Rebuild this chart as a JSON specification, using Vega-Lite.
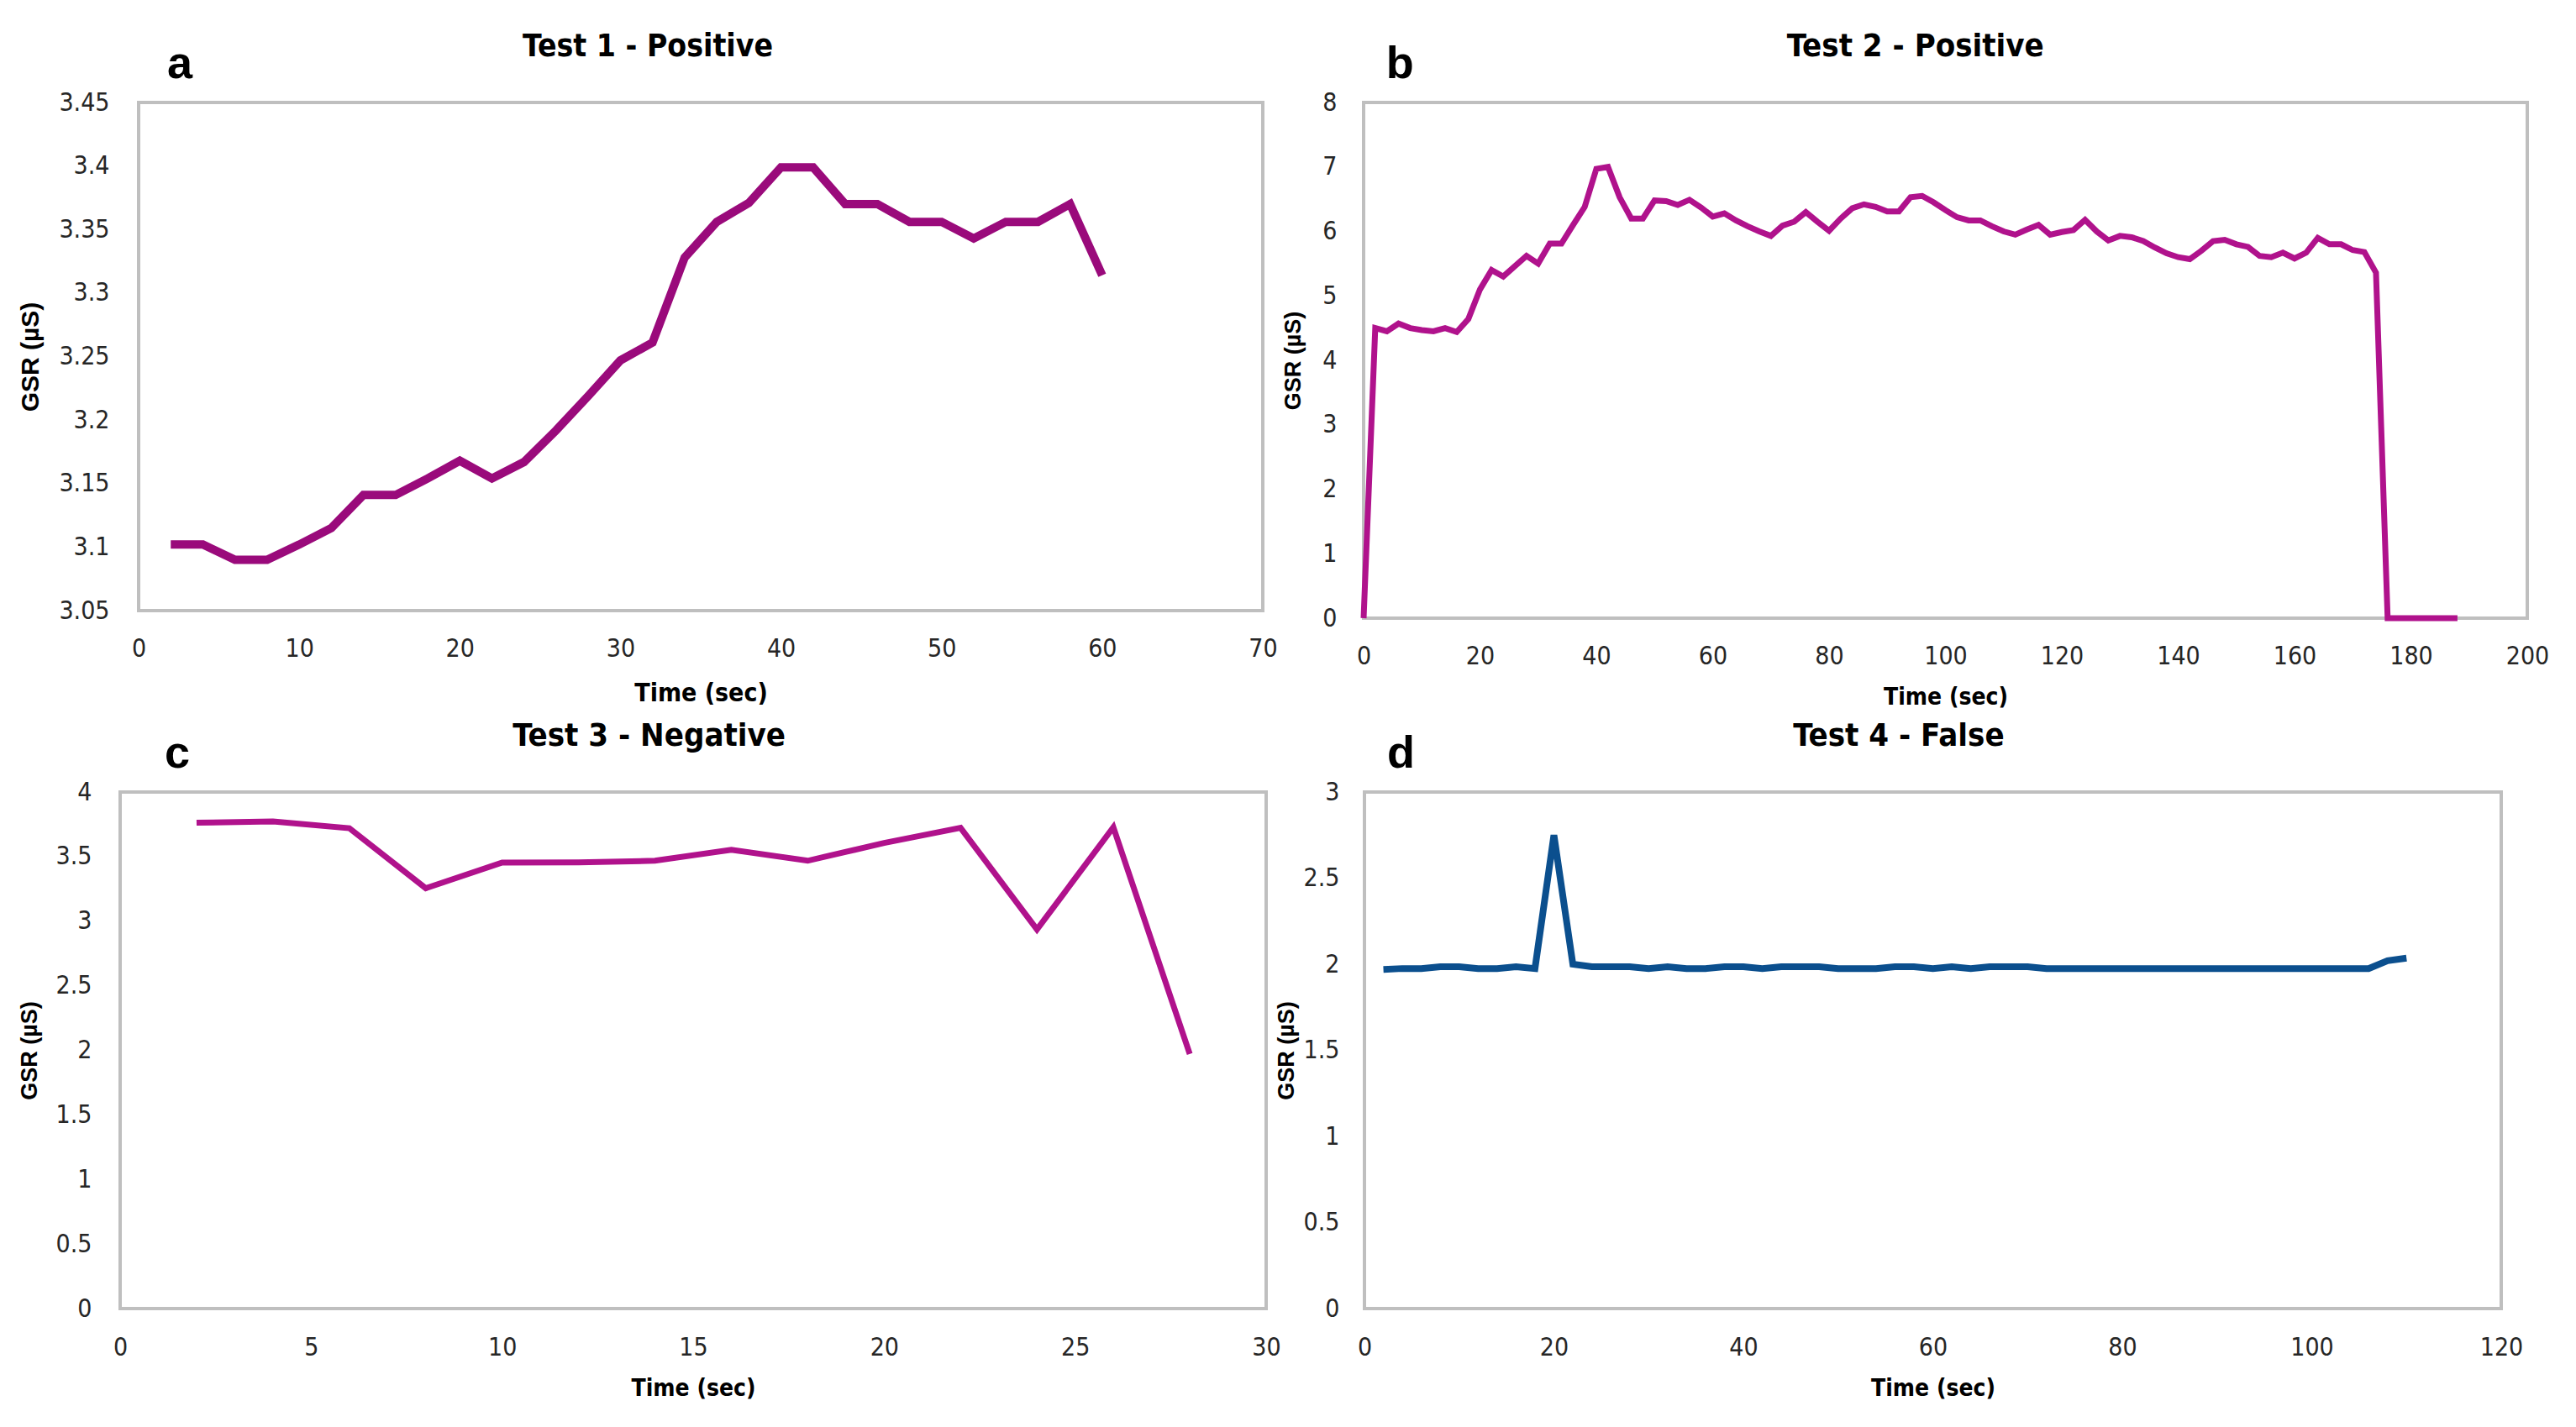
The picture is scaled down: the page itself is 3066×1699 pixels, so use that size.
{
  "$schema": "https://vega.github.io/schema/vega-lite/v6.json",
  "padding": {"left": 18, "top": 35, "right": 0, "bottom": 0},
  "background": "white",
  "config": {
    "view": {"stroke": "#BFBFBF", "strokeWidth": 4},
    "axis": {"domain": false, "ticks": false, "grid": false, "labelFont": "DejaVu Sans Condensed, sans-serif", "labelFontSize": 30, "labelColor": "#262626", "titleColor": "#000000", "labelFlush": false, "labelOverlap": false, "labelExpr": "toString(datum.value)"},
    "axisX": {"titleFont": "DejaVu Sans Condensed, sans-serif", "titleFontSize": 28, "titleFontWeight": "bold", "labelPadding": 30, "titlePadding": 20},
    "axisY": {"titleFont": "Liberation Sans, Arial, sans-serif", "titleFontSize": 27, "titleFontWeight": "bold", "labelPadding": 33, "titlePadding": 18},
    "title": {"font": "DejaVu Sans Condensed, sans-serif", "fontSize": 38, "fontWeight": "bold", "color": "#000000", "offset": 32, "frame": "bounds"}
  },
  "datasets": {
    "t1": [
      {"t": 2, "gsr": 3.102}, {"t": 4, "gsr": 3.102}, {"t": 6, "gsr": 3.09}, {"t": 8, "gsr": 3.09}, {"t": 10, "gsr": 3.102}, {"t": 12, "gsr": 3.115}, {"t": 14, "gsr": 3.141}, {"t": 16, "gsr": 3.141}, {"t": 18, "gsr": 3.154}, {"t": 20, "gsr": 3.168}, {"t": 22, "gsr": 3.154}, {"t": 24, "gsr": 3.167}, {"t": 26, "gsr": 3.192}, {"t": 28, "gsr": 3.219}, {"t": 30, "gsr": 3.247}, {"t": 32, "gsr": 3.261}, {"t": 34, "gsr": 3.328}, {"t": 36, "gsr": 3.356}, {"t": 38, "gsr": 3.371}, {"t": 40, "gsr": 3.399}, {"t": 42, "gsr": 3.399}, {"t": 44, "gsr": 3.37}, {"t": 46, "gsr": 3.37}, {"t": 48, "gsr": 3.356}, {"t": 50, "gsr": 3.356}, {"t": 52, "gsr": 3.343}, {"t": 54, "gsr": 3.356}, {"t": 56, "gsr": 3.356}, {"t": 58, "gsr": 3.37}, {"t": 60, "gsr": 3.314}
    ],
    "t2": [
      {"t": 0, "gsr": 0}, {"t": 2, "gsr": 4.5}, {"t": 4, "gsr": 4.45}, {"t": 6, "gsr": 4.57}, {"t": 8, "gsr": 4.5}, {"t": 10, "gsr": 4.47}, {"t": 12, "gsr": 4.45}, {"t": 14, "gsr": 4.5}, {"t": 16, "gsr": 4.44}, {"t": 18, "gsr": 4.64}, {"t": 20, "gsr": 5.1}, {"t": 22, "gsr": 5.4}, {"t": 24, "gsr": 5.3}, {"t": 26, "gsr": 5.46}, {"t": 28, "gsr": 5.62}, {"t": 30, "gsr": 5.5}, {"t": 32, "gsr": 5.81}, {"t": 34, "gsr": 5.81}, {"t": 36, "gsr": 6.1}, {"t": 38, "gsr": 6.38}, {"t": 40, "gsr": 6.97}, {"t": 42, "gsr": 7.0}, {"t": 44, "gsr": 6.53}, {"t": 46, "gsr": 6.2}, {"t": 48, "gsr": 6.2}, {"t": 50, "gsr": 6.48}, {"t": 52, "gsr": 6.47}, {"t": 54, "gsr": 6.41}, {"t": 56, "gsr": 6.49}, {"t": 58, "gsr": 6.37}, {"t": 60, "gsr": 6.23}, {"t": 62, "gsr": 6.28}, {"t": 64, "gsr": 6.17}, {"t": 66, "gsr": 6.08}, {"t": 68, "gsr": 6.0}, {"t": 70, "gsr": 5.93}, {"t": 72, "gsr": 6.09}, {"t": 74, "gsr": 6.15}, {"t": 76, "gsr": 6.3}, {"t": 78, "gsr": 6.15}, {"t": 80, "gsr": 6.01}, {"t": 82, "gsr": 6.2}, {"t": 84, "gsr": 6.36}, {"t": 86, "gsr": 6.42}, {"t": 88, "gsr": 6.38}, {"t": 90, "gsr": 6.31}, {"t": 92, "gsr": 6.31}, {"t": 94, "gsr": 6.53}, {"t": 96, "gsr": 6.55}, {"t": 98, "gsr": 6.45}, {"t": 100, "gsr": 6.33}, {"t": 102, "gsr": 6.22}, {"t": 104, "gsr": 6.17}, {"t": 106, "gsr": 6.17}, {"t": 108, "gsr": 6.08}, {"t": 110, "gsr": 6.0}, {"t": 112, "gsr": 5.95}, {"t": 114, "gsr": 6.03}, {"t": 116, "gsr": 6.1}, {"t": 118, "gsr": 5.95}, {"t": 120, "gsr": 5.99}, {"t": 122, "gsr": 6.02}, {"t": 124, "gsr": 6.18}, {"t": 126, "gsr": 6.0}, {"t": 128, "gsr": 5.86}, {"t": 130, "gsr": 5.93}, {"t": 132, "gsr": 5.91}, {"t": 134, "gsr": 5.85}, {"t": 136, "gsr": 5.75}, {"t": 138, "gsr": 5.66}, {"t": 140, "gsr": 5.6}, {"t": 142, "gsr": 5.57}, {"t": 144, "gsr": 5.7}, {"t": 146, "gsr": 5.85}, {"t": 148, "gsr": 5.87}, {"t": 150, "gsr": 5.8}, {"t": 152, "gsr": 5.76}, {"t": 154, "gsr": 5.62}, {"t": 156, "gsr": 5.6}, {"t": 158, "gsr": 5.67}, {"t": 160, "gsr": 5.58}, {"t": 162, "gsr": 5.67}, {"t": 164, "gsr": 5.9}, {"t": 166, "gsr": 5.8}, {"t": 168, "gsr": 5.8}, {"t": 170, "gsr": 5.71}, {"t": 172, "gsr": 5.68}, {"t": 174, "gsr": 5.36}, {"t": 176, "gsr": 0}, {"t": 178, "gsr": 0}, {"t": 180, "gsr": 0}, {"t": 182, "gsr": 0}, {"t": 184, "gsr": 0}, {"t": 186, "gsr": 0}, {"t": 188, "gsr": 0}
    ],
    "t3": [
      {"t": 2, "gsr": 3.762}, {"t": 4, "gsr": 3.773}, {"t": 6, "gsr": 3.72}, {"t": 8, "gsr": 3.255}, {"t": 10, "gsr": 3.454}, {"t": 12, "gsr": 3.455}, {"t": 14, "gsr": 3.468}, {"t": 16, "gsr": 3.553}, {"t": 18, "gsr": 3.468}, {"t": 20, "gsr": 3.606}, {"t": 22, "gsr": 3.723}, {"t": 24, "gsr": 2.936}, {"t": 26, "gsr": 3.727}, {"t": 28, "gsr": 1.972}
    ],
    "t4": [
      {"t": 2, "gsr": 1.97}, {"t": 4, "gsr": 1.975}, {"t": 6, "gsr": 1.975}, {"t": 8, "gsr": 1.985}, {"t": 10, "gsr": 1.985}, {"t": 12, "gsr": 1.975}, {"t": 14, "gsr": 1.975}, {"t": 16, "gsr": 1.985}, {"t": 18, "gsr": 1.975}, {"t": 20, "gsr": 2.75}, {"t": 22, "gsr": 2.0}, {"t": 24, "gsr": 1.985}, {"t": 26, "gsr": 1.985}, {"t": 28, "gsr": 1.985}, {"t": 30, "gsr": 1.975}, {"t": 32, "gsr": 1.985}, {"t": 34, "gsr": 1.975}, {"t": 36, "gsr": 1.975}, {"t": 38, "gsr": 1.985}, {"t": 40, "gsr": 1.985}, {"t": 42, "gsr": 1.975}, {"t": 44, "gsr": 1.985}, {"t": 46, "gsr": 1.985}, {"t": 48, "gsr": 1.985}, {"t": 50, "gsr": 1.975}, {"t": 52, "gsr": 1.975}, {"t": 54, "gsr": 1.975}, {"t": 56, "gsr": 1.985}, {"t": 58, "gsr": 1.985}, {"t": 60, "gsr": 1.975}, {"t": 62, "gsr": 1.985}, {"t": 64, "gsr": 1.975}, {"t": 66, "gsr": 1.985}, {"t": 68, "gsr": 1.985}, {"t": 70, "gsr": 1.985}, {"t": 72, "gsr": 1.975}, {"t": 74, "gsr": 1.975}, {"t": 76, "gsr": 1.975}, {"t": 78, "gsr": 1.975}, {"t": 80, "gsr": 1.975}, {"t": 82, "gsr": 1.975}, {"t": 84, "gsr": 1.975}, {"t": 86, "gsr": 1.975}, {"t": 88, "gsr": 1.975}, {"t": 90, "gsr": 1.975}, {"t": 92, "gsr": 1.975}, {"t": 94, "gsr": 1.975}, {"t": 96, "gsr": 1.975}, {"t": 98, "gsr": 1.975}, {"t": 100, "gsr": 1.975}, {"t": 102, "gsr": 1.975}, {"t": 104, "gsr": 1.975}, {"t": 106, "gsr": 1.975}, {"t": 108, "gsr": 2.02}, {"t": 110, "gsr": 2.035}
    ]
  },
  "concat": [
    {
      "hconcat": [
        {"width": 1, "height": 1, "view": {"stroke": null}, "data": {"values": [{}]}, "mark": {"type": "text", "text": ""}, "encoding": {}},
        {
          "hconcat": [
            {
              "title": {"text": "a", "anchor": "start", "font": "Liberation Sans, Arial, sans-serif", "fontSize": 54, "offset": 0, "dx": 179, "dy": 69},
              "vconcat": [
                {
                  "width": 1338, "height": 605,
                  "title": {"text": "Test 1 - Positive", "fontSize": 37},
                  "data": {"name": "t1"},
                  "mark": {"type": "line", "color": "#9A0A7B", "strokeWidth": 10},
                  "encoding": {
                    "x": {"field": "t", "type": "quantitative", "scale": {"domain": [0, 70]}, "axis": {"title": "Time (sec)", "values": [0, 10, 20, 30, 40, 50, 60, 70], "titleFontSize": 30, "titlePadding": 23}},
                    "y": {"field": "gsr", "type": "quantitative", "scale": {"domain": [3.05, 3.45], "zero": false}, "axis": {"title": "GSR (µS)", "values": [3.05, 3.1, 3.15, 3.2, 3.25, 3.3, 3.35, 3.4, 3.45], "titleFontSize": 30, "labelPadding": 35, "titlePadding": 18}}
                  }
                }
              ]
            },
            {
              "title": {"text": "b", "anchor": "start", "font": "Liberation Sans, Arial, sans-serif", "fontSize": 54, "offset": 0, "dx": 126, "dy": 69},
              "vconcat": [
                {
                  "width": 1385, "height": 614,
                  "title": {"text": "Test 2 - Positive"},
                  "data": {"name": "t2"},
                  "mark": {"type": "line", "color": "#B0128C", "strokeWidth": 7},
                  "encoding": {
                    "x": {"field": "t", "type": "quantitative", "scale": {"domain": [0, 200]}, "axis": {"title": "Time (sec)", "values": [0, 20, 40, 60, 80, 100, 120, 140, 160, 180, 200]}},
                    "y": {"field": "gsr", "type": "quantitative", "scale": {"domain": [0, 8]}, "axis": {"title": "GSR (µS)", "values": [0, 1, 2, 3, 4, 5, 6, 7, 8], "labelPadding": 32, "titlePadding": 20}}
                  }
                }
              ]
            }
          ],
          "spacing": 0
        }
      ],
      "spacing": 0
    },
    {
      "hconcat": [
        {"width": 1, "height": 1, "view": {"stroke": null}, "data": {"values": [{}]}, "mark": {"type": "text", "text": ""}, "encoding": {}},
        {
          "hconcat": [
            {
              "title": {"text": "c", "anchor": "start", "font": "Liberation Sans, Arial, sans-serif", "fontSize": 54, "offset": 0, "dx": 177, "dy": 69},
              "vconcat": [
                {
                  "width": 1364, "height": 615,
                  "title": {"text": "Test 3 - Negative"},
                  "data": {"name": "t3"},
                  "mark": {"type": "line", "color": "#B0128C", "strokeWidth": 7},
                  "encoding": {
                    "x": {"field": "t", "type": "quantitative", "scale": {"domain": [0, 30]}, "axis": {"title": "Time (sec)", "values": [0, 5, 10, 15, 20, 25, 30], "labelPadding": 31}},
                    "y": {"field": "gsr", "type": "quantitative", "scale": {"domain": [0, 4]}, "axis": {"title": "GSR (µS)", "values": [0, 0.5, 1, 1.5, 2, 2.5, 3, 3.5, 4], "labelPadding": 34, "titlePadding": 17}}
                  }
                }
              ]
            },
            {
              "title": {"text": "d", "anchor": "start", "font": "Liberation Sans, Arial, sans-serif", "fontSize": 54, "offset": 0, "dx": 136, "dy": 69},
              "vconcat": [
                {
                  "width": 1353, "height": 615,
                  "title": {"text": "Test 4 - False"},
                  "data": {"name": "t4"},
                  "mark": {"type": "line", "color": "#0B4F8E", "strokeWidth": 8},
                  "encoding": {
                    "x": {"field": "t", "type": "quantitative", "scale": {"domain": [0, 120]}, "axis": {"title": "Time (sec)", "values": [0, 20, 40, 60, 80, 100, 120], "labelPadding": 31}},
                    "y": {"field": "gsr", "type": "quantitative", "scale": {"domain": [0, 3]}, "axis": {"title": "GSR (µS)", "values": [0, 0.5, 1, 1.5, 2, 2.5, 3], "labelPadding": 30, "titlePadding": 6}}
                  }
                }
              ]
            }
          ],
          "spacing": -12
        }
      ],
      "spacing": 0
    }
  ],
  "columns": 1,
  "align": "none",
  "spacing": 10
}
